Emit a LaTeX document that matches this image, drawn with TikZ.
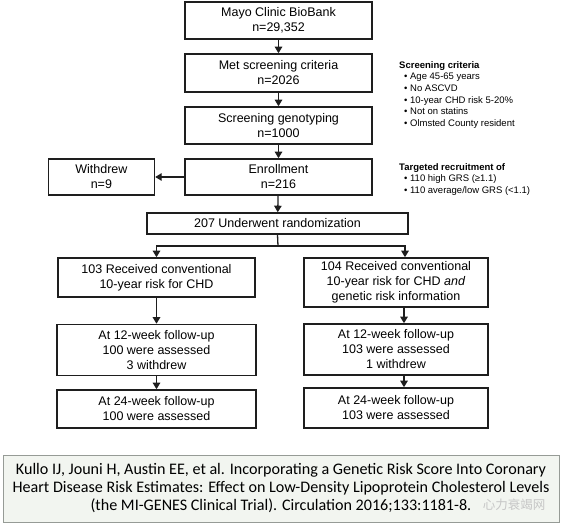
\documentclass[tikz,border=0pt]{standalone}
\usepackage{fontspec}
\setmainfont{Liberation Sans}
\newfontfamily\citefont{Carlito}
\newfontfamily\cjk{Noto Sans CJK SC}
\usetikzlibrary{arrows, arrows.meta, positioning}

\definecolor{boxline}{RGB}{30,30,30}
\definecolor{citefill}{RGB}{242,245,240}
\definecolor{citeline}{RGB}{150,155,150}

\begin{document}
\begin{tikzpicture}[x=1pt, y=-1pt,
  flowbox/.style={draw=boxline, line width=1.6pt, rectangle, align=center,
    inner sep=0pt, font=\fontsize{12.5}{15}\selectfont},
  arr/.style={draw=boxline, line width=1.3pt, -{Triangle[length=6.5pt,width=7.5pt]}},
  sidenote/.style={anchor=north west, align=left, inner sep=0pt,
    font=\fontsize{9.5}{11.7}\selectfont}]

  \useasboundingbox (0,0) rectangle (563,525);

  % main column
  \node[flowbox, minimum width=187pt, minimum height=37pt] (bank) at (278.5,20.5) {Mayo Clinic BioBank\\n=29,352};
  \node[flowbox, minimum width=187pt, minimum height=38pt] (crit) at (278.5,73) {Met screening criteria\\n=2026};
  \node[flowbox, minimum width=187pt, minimum height=37pt] (geno) at (278.5,125.5) {Screening genotyping\\n=1000};
  \node[flowbox, minimum width=187pt, minimum height=36pt] (enrol) at (278.5,177) {Enrollment\\n=216};
  \node[flowbox, minimum width=106pt, minimum height=36pt, left=29pt of enrol] (withdrew) {Withdrew\\n=9};
  \node[flowbox, minimum width=261pt, minimum height=21pt] (rand) at (277.5,223.5) {207 Underwent randomization};

  % two arms
  \node[flowbox, minimum width=197pt, minimum height=39pt] (convL) at (156.5,277.5) {103 Received conventional\\10-year risk for CHD};
  \node[flowbox, minimum width=184pt, minimum height=49pt] (convR) at (396,282.5) {104 Received conventional\\10-year risk for CHD \textit{and}\\genetic risk information};
  \node[flowbox, minimum width=199pt, minimum height=51pt] (twelveL) at (156.5,350) {At 12-week follow-up\\100 were assessed\\3 withdrew};
  \node[flowbox, minimum width=184pt, minimum height=51pt] (twelveR) at (396,349.5) {At 12-week follow-up\\103 were assessed\\1 withdrew};
  \node[flowbox, minimum width=199pt, minimum height=38pt] (tfourL) at (156.5,409) {At 24-week follow-up\\100 were assessed};
  \node[flowbox, minimum width=184pt, minimum height=40pt] (tfourR) at (396,408) {At 24-week follow-up\\103 were assessed};

  % connectors
  \draw[arr] (bank) -- (crit);
  \draw[arr] (crit) -- (geno);
  \draw[arr] (geno) -- (enrol);
  \draw[arr] (enrol) -- (withdrew);
  \draw[arr] (enrol) -- (rand);
  \coordinate (split) at (278,246);
  \draw[boxline, line width=1.3pt] (rand.south) -- (split);
  \draw[arr] (split) -| (convL.north);
  \draw[arr] (split) -| ([xshift=9pt]convR.north);
  \draw[arr] (convL) -- (twelveL);
  \draw[arr] (twelveL) -- (tfourL);
  \draw[arr] ([xshift=8pt]convR.south) -- ([xshift=8pt]twelveR.north);
  \draw[arr] ([xshift=8pt]twelveR.south) -- ([xshift=8pt]tfourR.north);

  % side notes
  \node[sidenote] (critnote) at (399,61) {\textbf{Screening criteria}\\
    \hspace{5pt}• Age 45-65 years\\
    \hspace{5pt}• No ASCVD\\
    \hspace{5pt}• 10-year CHD risk 5-20\%\\
    \hspace{5pt}• Not on statins\\
    \hspace{5pt}• Olmsted County resident};
  \node[sidenote] (recnote) at (399,163) {\textbf{Targeted recruitment of}\\
    \hspace{5pt}• 110 high GRS (≥1.1)\\
    \hspace{5pt}• 110 average/low GRS (<1.1)};

  % citation
  \node[draw=citeline, fill=citefill, line width=0.8pt, minimum width=556pt, minimum height=67pt,
    inner sep=0pt, align=center, font=\citefont\fontsize{16.1}{18}\selectfont] (cite) at (281,488.5)
    {Kullo IJ, Jouni H, Austin EE, et al. Incorporating a Genetic Risk Score Into Coronary\\
     Heart Disease Risk Estimates: Effect on Low-Density Lipoprotein Cholesterol Levels\\
     (the MI-GENES Clinical Trial). Circulation 2016;133:1181-8.};
  \node[text=gray!45, font=\cjk\fontsize{12.5}{14}\selectfont, inner sep=0pt] (mark) at (514,505) {心力衰竭网};
\end{tikzpicture}
\end{document}
